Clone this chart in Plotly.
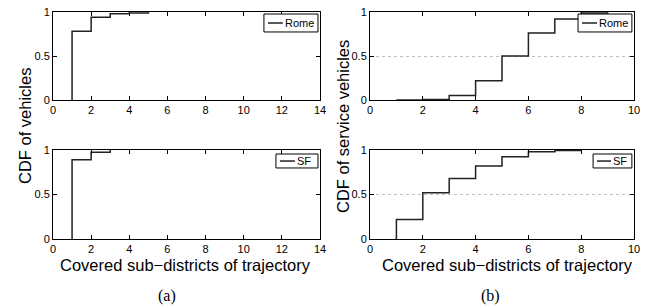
import plotly.graph_objects as go

# ---- data ----
rome_a_x = [1, 1, 2, 3, 4, 5]
rome_a_y = [0, 0.78, 0.94, 0.98, 0.99, 1.0]
sf_a_x = [1, 1, 2, 3]
sf_a_y = [0, 0.89, 0.975, 1.0]

rome_b_x = [1, 2, 3, 4, 5, 6, 7, 8, 9]
rome_b_y = [0, 0.005, 0.05, 0.22, 0.50, 0.76, 0.92, 0.99, 1.0]
sf_b_x = [1, 1, 2, 3, 4, 5, 6, 7, 8]
sf_b_y = [0, 0.22, 0.52, 0.68, 0.82, 0.925, 0.98, 0.995, 1.0]

xticks_a = [0, 2, 4, 6, 8, 10, 12, 14]
xticks_b = [0, 2, 4, 6, 8, 10]
yticks = [0, 0.5, 1]
ytick_text = ["0", "0.5", "1"]

W, H = 656, 308
FONT = "Liberation Sans, Arial, sans-serif"
LINE = dict(color="#222222", width=1.5)

fig = go.Figure()
fig.add_trace(go.Scatter(x=rome_a_x, y=rome_a_y, mode="lines", line_shape="hv", line=LINE, xaxis="x", yaxis="y", showlegend=False))
fig.add_trace(go.Scatter(x=sf_a_x, y=sf_a_y, mode="lines", line_shape="hv", line=LINE, xaxis="x2", yaxis="y2", showlegend=False))
fig.add_trace(go.Scatter(x=rome_b_x, y=rome_b_y, mode="lines", line_shape="hv", line=LINE, xaxis="x3", yaxis="y3", showlegend=False))
fig.add_trace(go.Scatter(x=sf_b_x, y=sf_b_y, mode="lines", line_shape="hv", line=LINE, xaxis="x4", yaxis="y4", showlegend=False))

# pixel geometry -> paper domains
def xd(a, b):
    return [a / W, b / W]

def yd(top, bot):
    return [(H - bot) / H, (H - top) / H]

left_x = xd(53, 320)
right_x = xd(370, 634)
top_y = yd(12, 100)
bot_y = yd(150, 239)

def xax(domain, anchor, ticks, rng):
    return dict(domain=domain, anchor=anchor, range=rng, tickvals=ticks,
                ticktext=[str(t) for t in ticks], showline=True, mirror="ticks",
                linecolor="black", linewidth=1, ticks="inside", ticklen=4,
                tickcolor="black", showgrid=False, zeroline=False, automargin=False,
                tickfont=dict(family=FONT, size=11, color="black"))

def yax(domain, anchor, grid):
    return dict(domain=domain, anchor=anchor, range=[0, 1], tickvals=yticks,
                ticktext=ytick_text, showline=True, mirror="ticks",
                linecolor="black", linewidth=1, ticks="inside", ticklen=4,
                tickcolor="black", showgrid=grid, gridcolor="#c0c0c0",
                griddash="dot", gridwidth=1, zeroline=False, automargin=False,
                tickfont=dict(family=FONT, size=11, color="black"))

fig.update_layout(
    width=W, height=H,
    margin=dict(l=0, r=0, t=0, b=0, pad=0, autoexpand=False),
    paper_bgcolor="white", plot_bgcolor="white",
    showlegend=False,
    xaxis=xax(left_x, "y", xticks_a, [0, 14]),
    yaxis=yax(top_y, "x", False),
    xaxis2=xax(left_x, "y2", xticks_a, [0, 14]),
    yaxis2=yax(bot_y, "x2", False),
    xaxis3=xax(right_x, "y3", xticks_b, [0, 10]),
    yaxis3=yax(top_y, "x3", True),
    xaxis4=xax(right_x, "y4", xticks_b, [0, 10]),
    yaxis4=yax(bot_y, "x4", True),
)

# legend boxes (drawn per panel, in axis-domain coordinates)
def legend(xa, ya, label, box, line, ymid, tx):
    xr, yr = f"{xa} domain", f"{ya} domain"
    fig.add_shape(type="rect", xref=xr, yref=yr, x0=box[0], x1=box[1], y0=box[2], y1=box[3],
                  line=dict(color="black", width=1), fillcolor="white", layer="above")
    fig.add_shape(type="line", xref=xr, yref=yr, x0=line[0], x1=line[1], y0=ymid, y1=ymid,
                  line=dict(color="#222222", width=1.5), layer="above")
    fig.add_annotation(xref=xr, yref=yr, x=tx, y=ymid, text=label, showarrow=False,
                       xanchor="left", yanchor="middle",
                       font=dict(family=FONT, size=11, color="black"))

legend("x", "y", "Rome", [0.790, 0.9925, 0.773, 0.977], [0.805, 0.861], 0.875, 0.862)
legend("x2", "y2", "SF", [0.835, 0.9925, 0.798, 0.955], [0.850, 0.906], 0.876, 0.907)
legend("x3", "y3", "Rome", [0.788, 0.992, 0.773, 0.977], [0.803, 0.860], 0.875, 0.861)
legend("x4", "y4", "SF", [0.845, 0.992, 0.798, 0.955], [0.860, 0.913], 0.876, 0.914)

TITLE = dict(family=FONT, size=16.5, color="black")
# y-axis titles
fig.add_annotation(xref="paper", yref="paper", x=25 / W, y=(H - 126) / H, text="CDF of vehicles",
                   textangle=-90, showarrow=False, xanchor="center", yanchor="middle", font=TITLE)
fig.add_annotation(xref="paper", yref="paper", x=343 / W, y=(H - 127) / H, text="CDF of service vehicles",
                   textangle=-90, showarrow=False, xanchor="center", yanchor="middle", font=TITLE)
# x-axis titles
fig.add_annotation(xref="paper", yref="paper", x=186 / W, y=(H - 265) / H, text="Covered sub\u2212districts of trajectory",
                   showarrow=False, xanchor="center", yanchor="middle", font=TITLE)
fig.add_annotation(xref="paper", yref="paper", x=507 / W, y=(H - 265) / H, text="Covered sub\u2212districts of trajectory",
                   showarrow=False, xanchor="center", yanchor="middle", font=TITLE)
# panel labels
SERIF = dict(family="Liberation Serif, Times New Roman, serif", size=16, color="black")
fig.add_annotation(xref="paper", yref="paper", x=167 / W, y=(H - 296) / H, text="(a)",
                   showarrow=False, xanchor="center", yanchor="middle", font=SERIF)
fig.add_annotation(xref="paper", yref="paper", x=490 / W, y=(H - 296) / H, text="(b)",
                   showarrow=False, xanchor="center", yanchor="middle", font=SERIF)

fig.write_html("out.html", config={"displayModeBar": False},
               post_script="document.body.style.margin='0px';document.body.style.overflow='hidden';")
